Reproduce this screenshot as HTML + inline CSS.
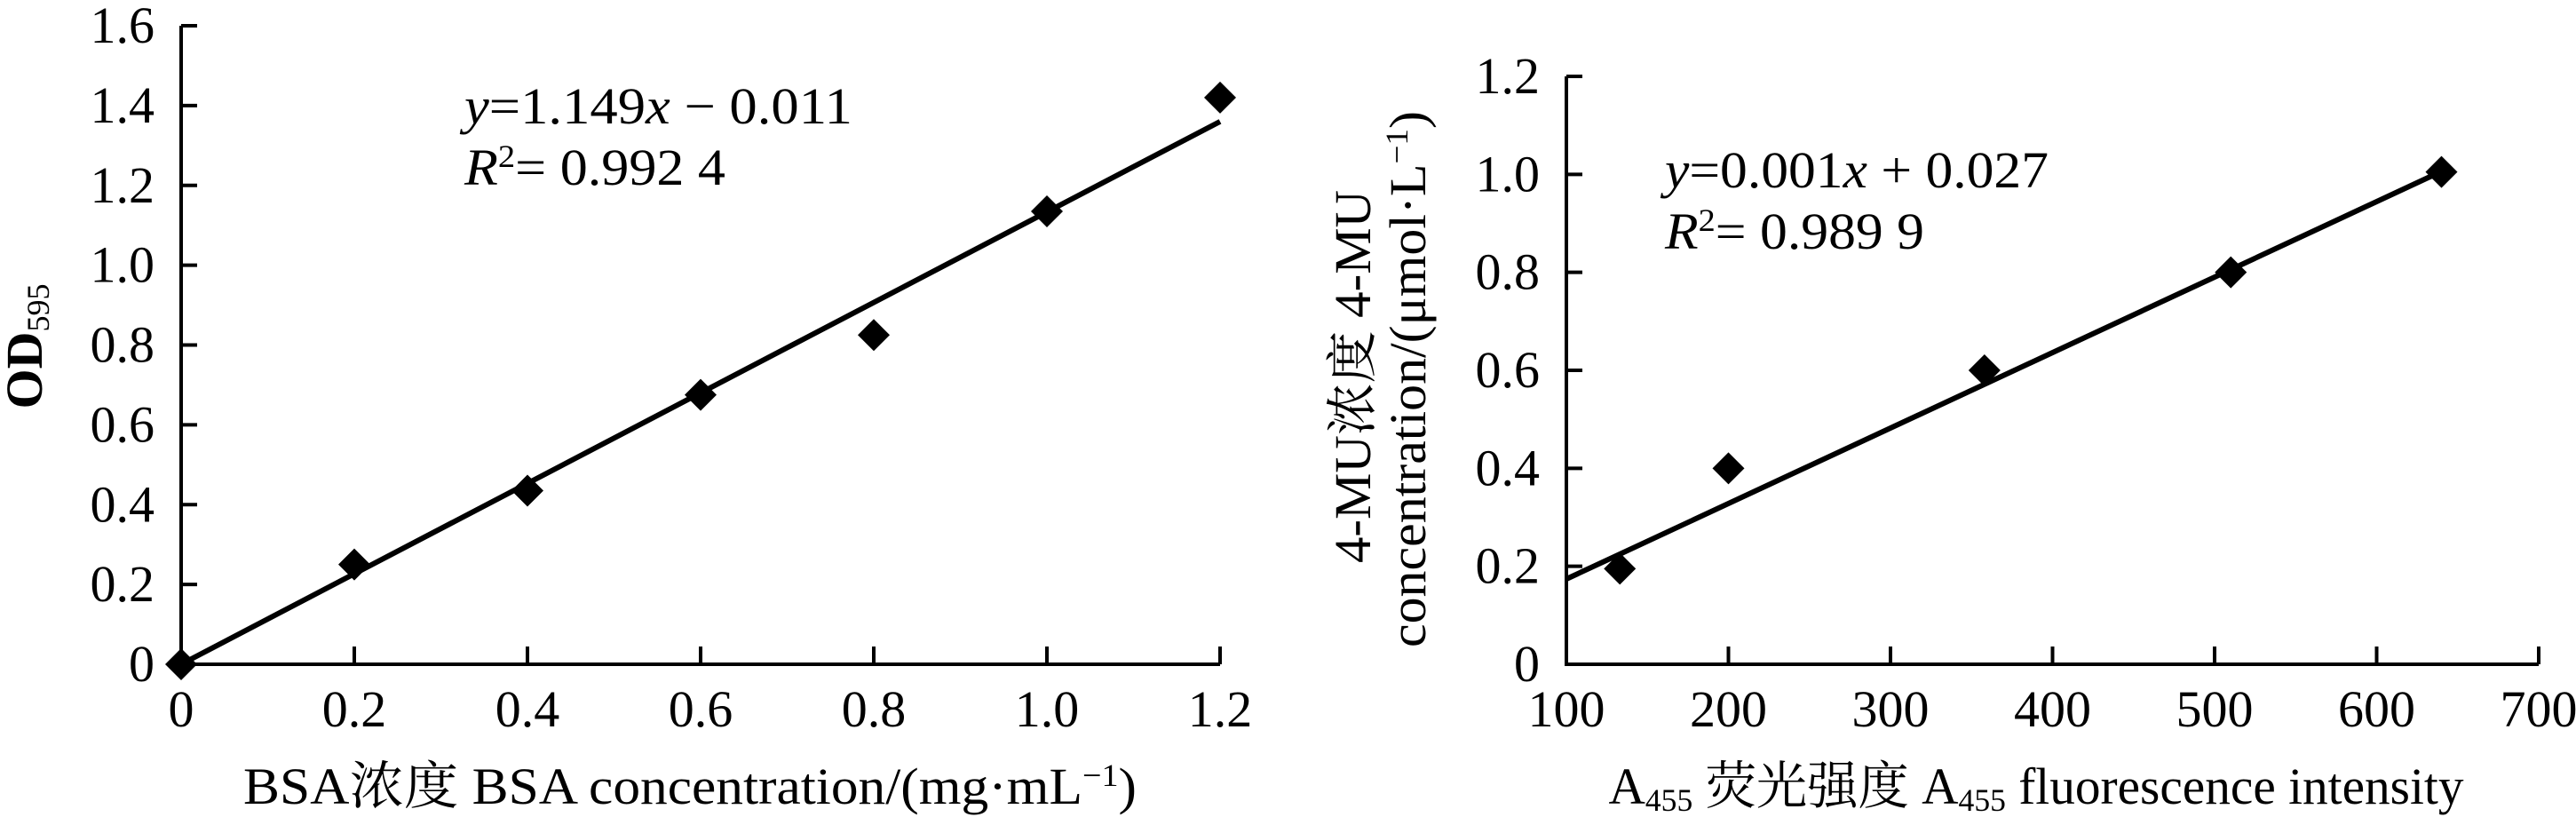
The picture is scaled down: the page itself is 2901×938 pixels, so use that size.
<!DOCTYPE html>
<html><head><meta charset="utf-8"><style>
html,body{margin:0;padding:0;background:#fff;}
svg, svg text, svg tspan{font-family:"Liberation Serif","Times New Roman","Noto Serif CJK SC",serif;}
</style></head><body>
<svg id="c" width="2901" height="933" viewBox="0 0 2901 933" xmlns="http://www.w3.org/2000/svg">
<g id="left"></g>
<g id="right"></g>
<text x="523" y="139" font-size="58" textLength="437" lengthAdjust="spacingAndGlyphs"><tspan font-style="italic">y</tspan>=1.149<tspan font-style="italic">x</tspan> − 0.011</text>
<text x="523" y="208" font-size="58" textLength="294" lengthAdjust="spacingAndGlyphs"><tspan font-style="italic">R</tspan><tspan font-size="36" dy="-20">2</tspan><tspan dy="20">= 0.992 4</tspan></text>
<text x="1875" y="211" font-size="58" textLength="432" lengthAdjust="spacingAndGlyphs"><tspan font-style="italic">y</tspan>=0.001<tspan font-style="italic">x</tspan> + 0.027</text>
<text x="1875" y="280" font-size="58" textLength="292" lengthAdjust="spacingAndGlyphs"><tspan font-style="italic">R</tspan><tspan font-size="36" dy="-20">2</tspan><tspan dy="20">= 0.989 9</tspan></text>
<text x="777" y="905" font-size="58" text-anchor="middle" textLength="1006" lengthAdjust="spacingAndGlyphs">BSA浓度  BSA concentration/(mg·mL<tspan font-size="36" dy="-20">−1</tspan><tspan dy="20">)</tspan></text>
<text transform="translate(47,390) rotate(-90)" font-size="58" font-weight="bold" text-anchor="middle">OD<tspan font-size="36" font-weight="normal" dy="8">595</tspan></text>
<text x="2293" y="905" font-size="58" text-anchor="middle" textLength="963" lengthAdjust="spacingAndGlyphs">A<tspan font-size="36" dy="8">455</tspan><tspan dy="-8"> 荧光强度  A</tspan><tspan font-size="36" dy="8">455</tspan><tspan dy="-8"> fluorescence intensity</tspan></text>
<text transform="translate(1543,424) rotate(-90)" font-size="58" text-anchor="middle" textLength="420" lengthAdjust="spacingAndGlyphs">4-MU浓度 4-MU</text>
<text transform="translate(1605,427) rotate(-90)" font-size="58" text-anchor="middle" textLength="604" lengthAdjust="spacingAndGlyphs">concentration/(μmol·L<tspan font-size="36" dy="-20">−1</tspan><tspan dy="20">)</tspan></text>
</svg>
<script>
const NS='http://www.w3.org/2000/svg';
// Left chart data
const bsaX=[0,0.2,0.4,0.6,0.8,1.0,1.2];
const bsaY=[0,0.25,0.435,0.675,0.825,1.135,1.42];
const bsaLineX=[0,1.2];
const bsaLineY=[0.0,1.36];
const bsaXTicks=[0,0.2,0.4,0.6,0.8,1.0,1.2];
const bsaXTickLabels=['0','0.2','0.4','0.6','0.8','1.0','1.2'];
const bsaYTicks=[0,0.2,0.4,0.6,0.8,1.0,1.2,1.4,1.6];
const bsaYTickLabels=['0','0.2','0.4','0.6','0.8','1.0','1.2','1.4','1.6'];
// Right chart data
const muX=[133,200,358,510,640];
const muY=[0.195,0.40,0.60,0.80,1.005];
const muLineX=[100,640];
const muLineY=[0.174,1.006];
const muXTicks=[100,200,300,400,500,600,700];
const muXTickLabels=['100','200','300','400','500','600','700'];
const muYTicks=[0,0.2,0.4,0.6,0.8,1.0,1.2];
const muYTickLabels=['0','0.2','0.4','0.6','0.8','1.0','1.2'];

function mk(tag,attrs,parent){const e=document.createElementNS(NS,tag);for(const k in attrs)e.setAttribute(k,attrs[k]);parent.appendChild(e);return e;}

function draw(g,cfg){
  const sx=v=>cfg.x0+(v-cfg.xmin)/(cfg.xmax-cfg.xmin)*(cfg.x1-cfg.x0);
  const sy=v=>cfg.y0-(v-cfg.ymin)/(cfg.ymax-cfg.ymin)*(cfg.y0-cfg.y1);
  const ax=mk('path',{d:`M${cfg.x0},${cfg.y1}V${cfg.y0}H${cfg.x1}`,fill:'none',stroke:'#000','stroke-width':4},g);
  
  
  cfg.xt.forEach((t,i)=>{
    const x=sx(t);
    const tk=mk('line',{x1:x,x2:x,y1:cfg.y0,y2:cfg.y0-20,stroke:'#000','stroke-width':4},g);
    
    
    const tl=mk('text',{x:x,y:818,'font-size':58,'text-anchor':'middle','font-family':'Liberation Serif, serif'},g);
    
    
    tl.textContent=cfg.xl[i];
  });
  cfg.yt.forEach((t,i)=>{
    const y=sy(t);
    const tk=mk('line',{x1:cfg.x0,x2:cfg.x0+18,y1:y,y2:y,stroke:'#000','stroke-width':4},g);
    
    
    const tl=mk('text',{x:cfg.x0-30,y:y+19,'font-size':58,'text-anchor':'end','font-family':'Liberation Serif, serif'},g);
    
    
    tl.textContent=cfg.yl[i];
  });
  const ln=mk('line',{x1:sx(cfg.lx[0]),y1:sy(cfg.ly[0]),x2:sx(cfg.lx[1]),y2:sy(cfg.ly[1]),stroke:'#000','stroke-width':6},g);
  
  
  cfg.px.forEach((v,i)=>{
    const x=sx(v),y=sy(cfg.py[i]),r=18;
    const p=mk('path',{d:`M${x},${y-r}L${x+r},${y}L${x},${y+r}L${x-r},${y}Z`,fill:'#000'},g);
    
    
  });
}
draw(document.getElementById('left'),{x0:204,x1:1374,y0:748,y1:29,xmin:0,xmax:1.2,ymin:0,ymax:1.6,xt:bsaXTicks,xl:bsaXTickLabels,yt:bsaYTicks,yl:bsaYTickLabels,px:bsaX,py:bsaY,lx:bsaLineX,ly:bsaLineY});
draw(document.getElementById('right'),{x0:1764,x1:2859,y0:748,y1:86,xmin:100,xmax:700,ymin:0,ymax:1.2,xt:muXTicks,xl:muXTickLabels,yt:muYTicks,yl:muYTickLabels,px:muX,py:muY,lx:muLineX,ly:muLineY});
</script>
</body></html>
